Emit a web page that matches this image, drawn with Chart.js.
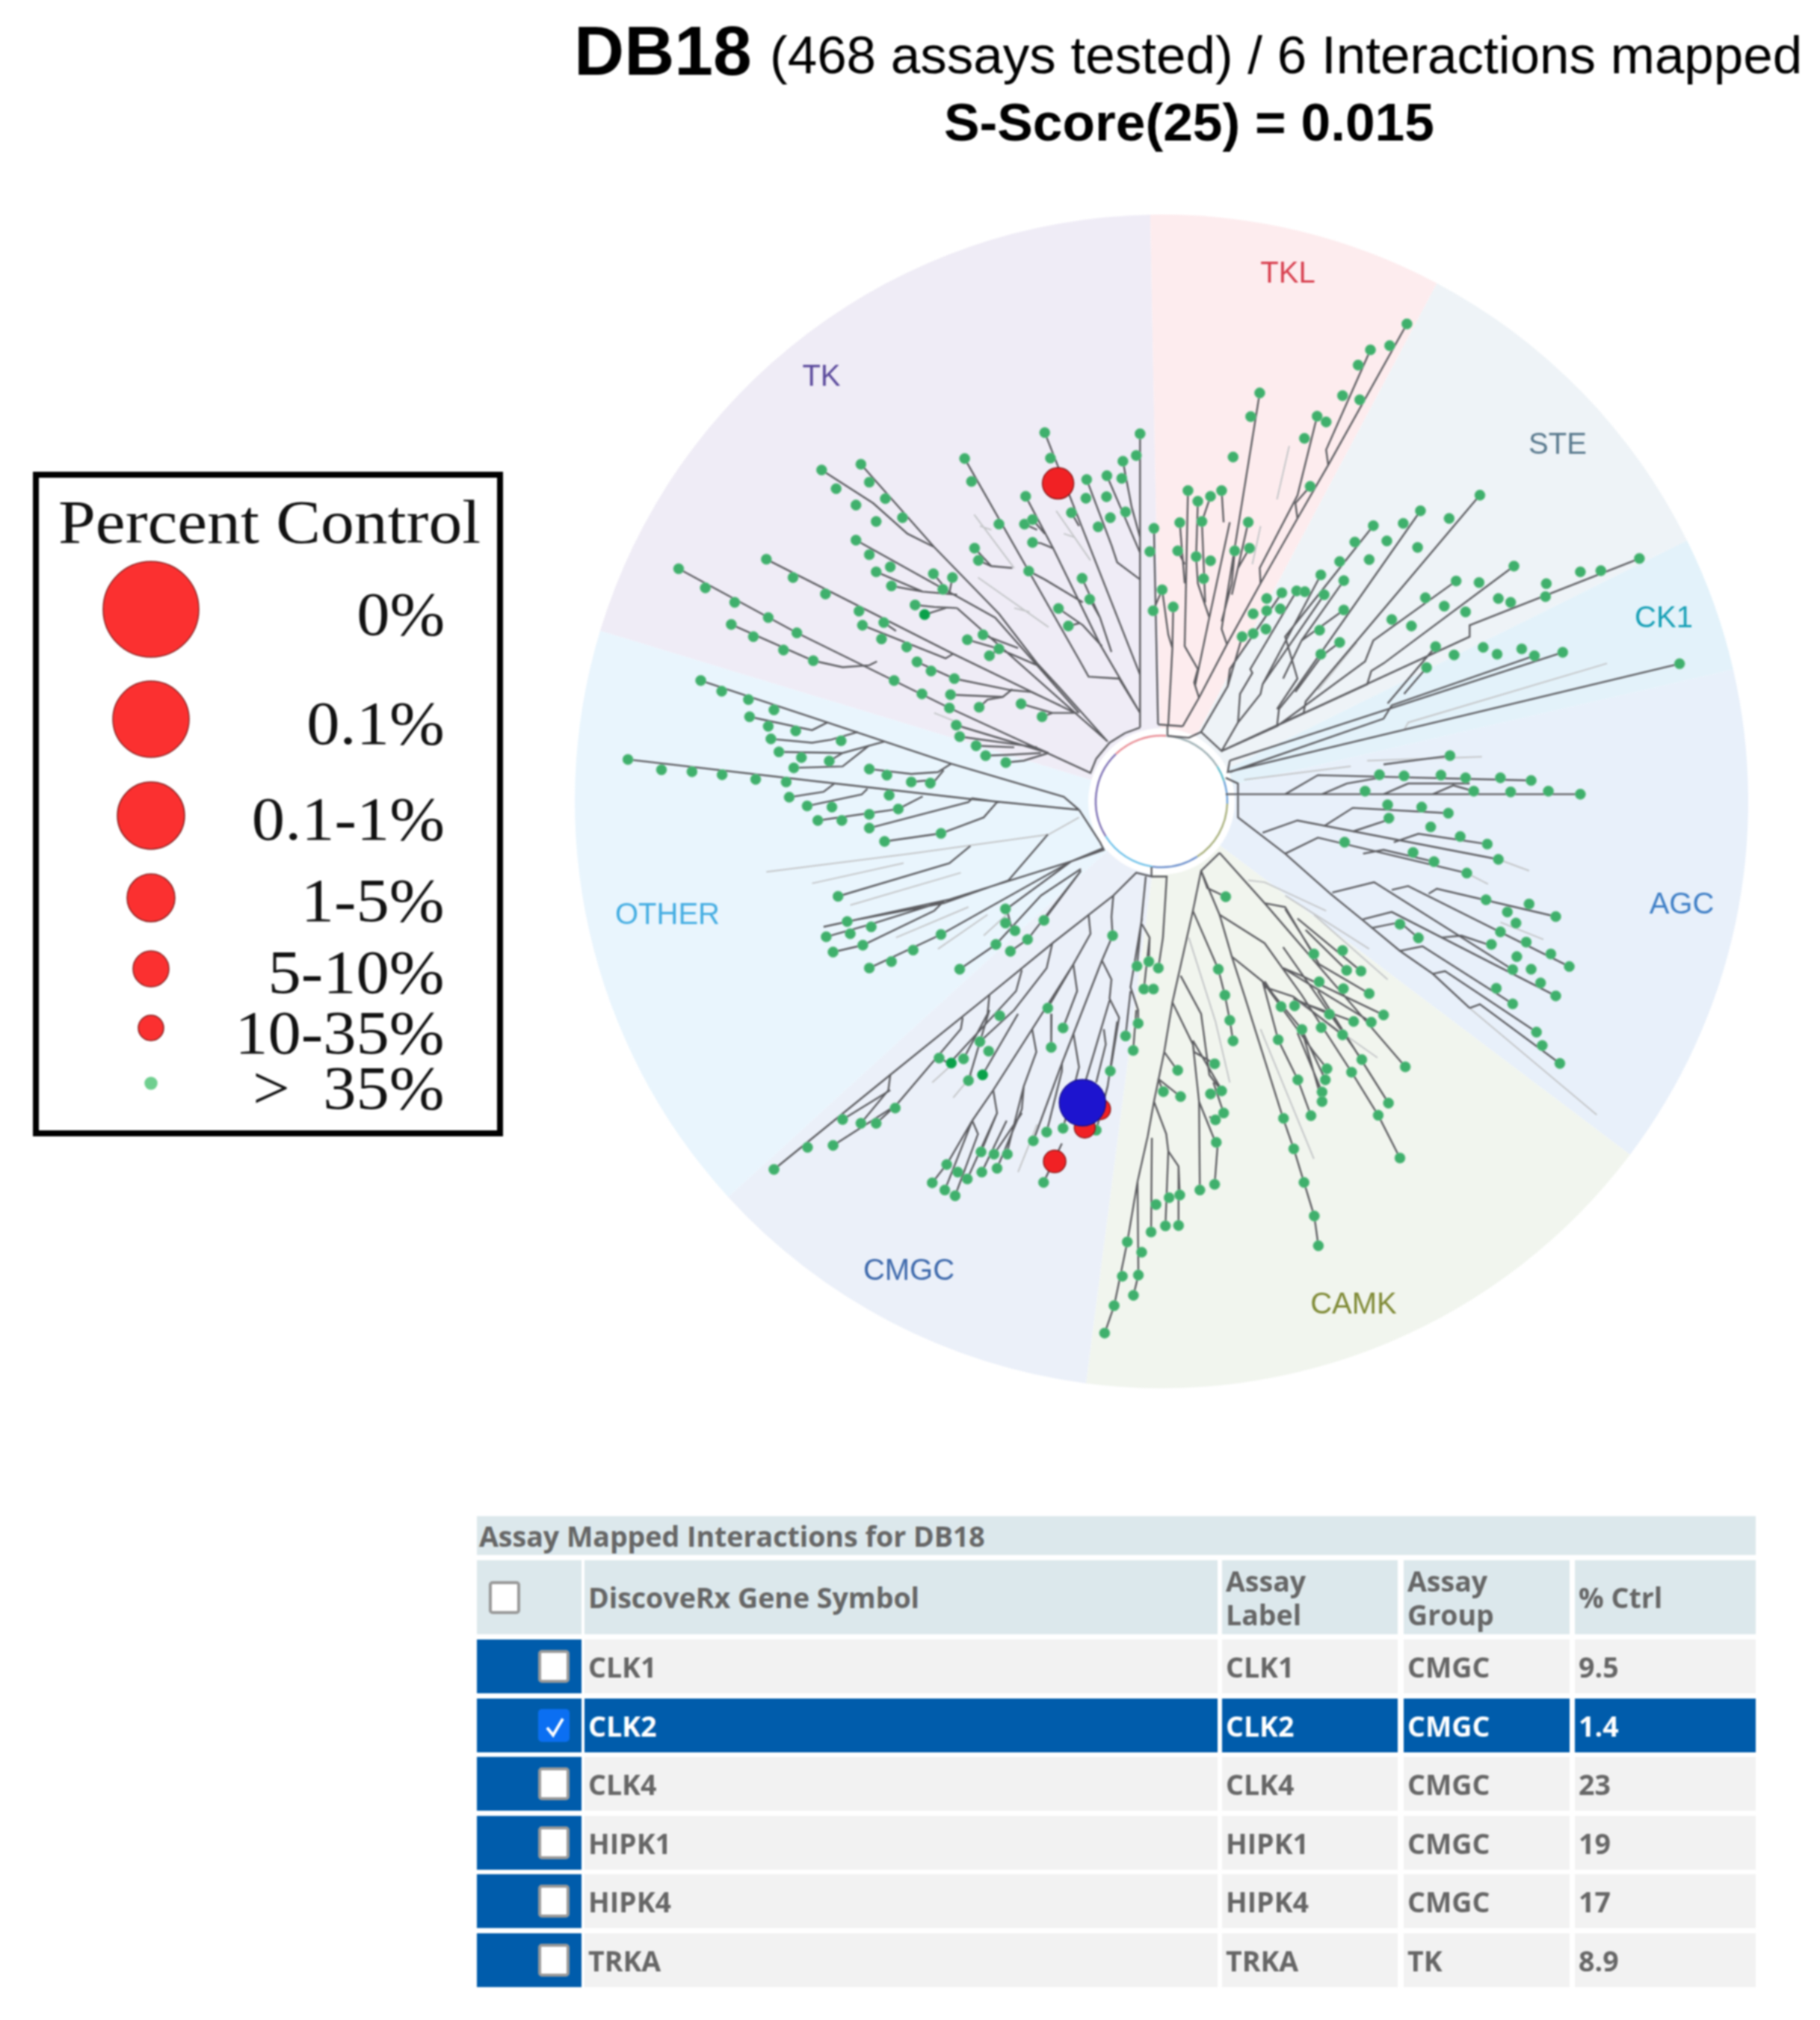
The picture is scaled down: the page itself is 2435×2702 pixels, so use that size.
<!DOCTYPE html>
<html>
<head>
<meta charset="utf-8">
<title>DB18 kinome tree</title>
<script src="https://cdn.jsdelivr.net/npm/chart.js@4"></script>
<style>
    html, body { margin: 0; padding: 0; background: #fff; }
    #page { position: relative; width: 2435px; height: 2702px; overflow: hidden; filter: blur(0.8px); }
    #tree { position: absolute; left: 0; top: 0; }
    .txt { position: absolute; white-space: nowrap; line-height: 1; }
    .title { font-family: "Liberation Sans", sans-serif; color: #000; }
    .group { font-family: "Liberation Sans", sans-serif; font-size: 40px; transform: translate(-50%, -50%); }
    .legend-box { position: absolute; left: 44px; top: 631px; width: 613px; height: 873px; border: 8px solid #000; background: transparent; }
    .legend-txt { font-family: "Liberation Serif", serif; color: #111; font-size: 82px; transform: translateY(-50%) scaleX(1.08); }
    .legend-val { transform-origin: right center; }
    .legend-head { transform-origin: left center; }
    .cell { position: absolute; box-sizing: border-box; display: flex; align-items: center; padding-left: 5px;
            font-family: "Open Sans", sans-serif; font-weight: 700; font-size: 37.5px; line-height: 45px; color: #666; }
    .cell.head { background: #dce8ec; }
    .cell.row { background: #f2f2f2; }
    .cell.sel { background: #005cab; color: #fff; }
    .cell.box { background: #005cab; }
    .check { position: absolute; box-sizing: border-box; width: 42px; height: 44px; border: 4px solid #999; border-radius: 5px; background: #fff; }
    .check.on { background: #0b6ff2; border-color: #0b6ff2; }
    .check.on svg { position: absolute; left: 3px; top: 4px; }
</style>
</head>
<body>
<div id="page">
    <canvas id="tree" width="2435" height="2702"></canvas>
    <div class="legend-box"></div>
</div>
<script>
// --- Values ---
const legendLabels = ['0%', '0.1%', '0.1-1%', '1-5%', '5-10%', '10-35%', '>  35%'];
const legendX = [202, 202, 202, 202, 202, 202, 202];
const legendY = [815, 962, 1091, 1201, 1296, 1375, 1449];
const legendSize = [64, 51, 45, 32, 24, 17, 8];

const geneSymbols = ['CLK1', 'CLK2', 'CLK4', 'HIPK1', 'HIPK4', 'TRKA'];
const assayLabels = ['CLK1', 'CLK2', 'CLK4', 'HIPK1', 'HIPK4', 'TRKA'];
const assayGroups = ['CMGC', 'CMGC', 'CMGC', 'CMGC', 'CMGC', 'TK'];
const pctCtrl = ['9.5', '1.4', '23', '19', '17', '8.9'];

const groupNames = ['TK', 'TKL', 'STE', 'CK1', 'AGC', 'CAMK', 'CMGC', 'OTHER'];
const groupStart = [196.9, 268.9, 298, 333.6, 347, 37, 97.4, 137.6];
const groupEnd = [268.9, 298, 333.6, 347, 397, 97.4, 137.6, 196.9];
const groupFill = ['#efecf6', '#fdecee', '#eef3f7', '#e3f2fa', '#e8f0fa', '#f1f5ee', '#ebf0f9', '#e9f5fd'];
const groupInk = ['#5b4a9c', '#d8404f', '#5a7a8e', '#159fb5', '#3f7fc6', '#7f8a35', '#3c68ab', '#44ade2'];
const groupLabelX = [1099, 1723, 2084, 2226, 2250, 1811, 1216, 893];
const groupLabelY = [502, 364, 593, 825, 1208, 1743, 1698, 1222];
const ringStart = [148, 226, 274, 328, 342, 2, 57, 98];
const ringEnd = [226, 274, 328, 342, 362, 57, 98, 148];
const ringInk = ['#7d70b4', '#e98c94', '#9fb0b4', '#62bccb', '#6ea2da', '#a8b07c', '#6d90cc', '#70c2ea'];

const leavesTL = [
    [1250,605],[1500,608],[1490,665],[1265,672],[1455,680],[1040,673],[665,703],[768,688],[790,735],[703,752],
    [832,778],[755,795],[877,828],[808,838],[1058,733],[1200,772],[1360,728],[1413,718],[1452,725],[1358,777],
    [1412,773],[1320,815],[1462,813],[1422,828],[1390,852],[1130,845],[1197,845],[1218,833],[1218,893],[755,887],
    [790,925],[845,957],[808,970],[848,1007],[958,975],[1008,985],[983,1016],[1066,908],[1076,940],[1208,968],
    [1348,987],[1368,1042],[290,962],[520,937],[590,985],[360,1012],[675,1028],[437,1050],[910,1057],[763,1073],
    [1286,1066],[525,1090],[828,1103],[772,1110],[1312,1112],[428,1108],[600,1130],[486,1140],[822,1146],[1088,1135],
    [1047,1148],[888,1167],[1130,1172],[1105,1190],[565,1175],[643,1203],[915,1206],[952,1230],[1013,1250],[855,1255],
    [928,1290],[1003,1292],[1188,1316],[1078,1325],[1000,1327],[1243,1350],[1018,1372],[1027,1402],[1070,1426],[1095,1452],
    [1148,1470],[348,1255],[403,1283],[473,1305],[540,1332],[476,1350],[525,1375],[597,1387],[532,1408],[716,1413],
    [553,1442],[612,1457],[685,1466],[592,1484],[790,1487],[836,1503],[157,1462],[245,1489],[325,1494],[404,1502],
    [492,1514],[572,1521],[900,1521],[950,1524]
];
const leavesBL = [
    [580,32],[627,55],[692,58],[842,27],[655,93],[718,93],[790,77],[866,63],[790,113],[830,148],[978,127],[708,292],
    [732,358],[677,398],[740,390],[795,372],[773,420],[695,438],[790,480],[848,463],[905,433],[978,392],[1147,325],[1147,362],
    [1172,382],[1248,355],[1205,405],[1122,418],[1160,436],[1027,483],
    [1428,395],[1492,475],[1523,463],[1548,480],[1510,535],[1535,535],[1258,585],[1132,605],[1495,625],[1298,637],
    [1462,658],[1080,673],[1267,688],[1482,696],[1103,698],[973,716],[1037,718],[1050,775],[1422,750],[858,847],
    [720,877],[768,887],[808,887],[1298,900],[1255,910],[1220,933],[628,950],[695,945],[540,1008],[1083,962],
    [1117,968],[1152,968],[993,995],[1022,1015],[1125,1005],[1085,1015],[1047,1033],[955,1043],[988,1062],[1015,1077],
    [1247,1042],[1385,905],[1432,1365],[1407,1437]
];
const leavesTR = [
    [697,320],[655,377],[608,388],[578,428],[338,501],[540,508],[582,519],[316,563],[478,562],[500,577],[447,620],[273,669],
    [461,746],[163,757],[187,785],[218,772],[245,757],[143,841],[197,838],[310,840],[80,856],[277,915],[313,908],[138,915],
    [70,917],[183,930],[218,941],[201,988],[100,1017],[78,1072],[127,1062],
    [875,769],[730,810],[800,830],[688,843],[615,849],[648,889],[570,892],[723,906],[533,943],[605,938],[958,955],[1264,935],
    [487,978],[543,993],[817,994],[873,998],[1120,970],[1170,967],[1037,1001],[1035,1035],[392,1025],[428,1020],[448,1022],
    [355,1040],[495,1030],[742,1038],[920,1040],[950,1050],[788,1060],[322,1080],[355,1072],[388,1067],[543,1070],[840,1075],
    [660,1095],[708,1112],[484,1123],[353,1120],[322,1132],[295,1140],[533,1155],[487,1186],
    [767,1166],[883,1168],[977,1172],[1077,1181],[812,1188],[917,1186],[1008,1190],[745,1221],[1362,1211],
    [802,1452],[630,1502],[690,1505],[780,1503],[840,1510],[925,1510],[1000,1517],[595,1545],[860,1545],[950,1547],[1042,1545],[1120,1553]
];
const leavesBR = [
    [255,293],[237,483],[253,551],[265,617],[273,671],[228,731],[138,748],[103,804],[145,817],[218,810],[245,802],[250,860],
    [230,878],[232,937],[192,1062],[228,1047],[85,1100],[117,1082],[143,1075],[73,1172],[108,1156],[140,1155],[15,1198],[50,1225],
    [42,1285],[3,1288],[30,1338],
    [470,443],[540,434],[550,486],[585,488],[483,516],[542,534],[605,547],[390,581],[423,579],[508,601],[640,603],[567,620],
    [610,622],[441,641],[488,636],[540,655],[383,668],[587,720],[693,739],[502,744],[562,753],[498,773],[431,773],[490,805],
    [490,830],[652,834],[627,866],[463,867],[396,874],[421,954],[680,978],[446,1042],[471,1130],[481,1208],
    [650,52],[733,58],[798,74],[653,87],[755,110],[827,135],[893,155],[545,150],[712,177],[920,195],[763,201],[843,231],
    [890,301],[995,312],[942,333],[1060,345],[963,362],[680,365],[725,401],[925,385],[988,412],[903,418],[1048,443],[965,450],
    [1093,476],[1000,483],[955,484],[1023,519],[1060,553],[915,533],[955,574],[1013,648],[1027,683],[1070,730]
];
// a few leaves are drawn in a stronger green
const strongLeavesTL = [[935,1082]];
const strongLeavesBL = [[1005,729],[1087,760]];

// interactions: blue is the selected assay (CLK2)
const hitsRedTL = [[1285,738]];
const hitsRedBL = [[1395,850],[1355,898],[1276,987]];
const hitsRedSize = [21, 14, 14, 15];
const hitsBlueBL = [[1349,833]];

// branches, one flat x,y list per stroke
const branchesTL = [
    [1500,1378,1500,608],
    [1500,1340,1395,1160,1272,908,1200,772],
    [1272,908,1240,895,1218,893],[1250,870,1218,833],[1230,860,1197,845],
    [1500,1240,1250,605],[1340,850,1320,815],
    [1500,990,1440,945,1425,900,1360,728],[1500,920,1413,718],[1500,880,1478,800,1455,680],
    [1415,1415,1290,1275,1230,1210,1130,1080,960,905,768,688],
    [960,905,890,870,800,790,665,703],
    [1500,1340,1445,1250,1365,1245,1340,1200,1040,673],
    [1350,1050,1250,990,1208,968],[1425,1180,1395,1090,1348,987],[1395,1090,1368,1042],
    [1400,1165,1350,1110,1286,1066],[1340,1105,1312,1112],
    [1165,960,1110,955,1076,940],[1110,955,1066,908],
    [1340,1340,1120,1090,755,887],
    [1020,1030,930,1022,848,1007],[930,1022,808,970],[1000,1025,1008,985],[1000,1025,958,975],
    [1330,1340,1020,1065],[1020,1065,960,1062,910,1057],[990,1065,935,1082],
    [1415,1415,1330,1340,1010,1185,520,937],
    [1010,1185,990,1197,772,1110],[860,1125,828,1103],
    [1180,1170,1088,1135],[1230,1215,1130,1172,1105,1190],[1130,1172,1047,1148],
    [1290,1320,1215,1285,1160,1280,1013,1250,915,1206],
    [1165,1278,1140,1298,1003,1292],[1140,1298,1100,1305,1078,1325],
    [1335,1340,1270,1340,1243,1350],[1270,1340,1188,1316],
    [290,962,600,1130,1000,1327,1370,1497,1385,1460,1420,1418,1460,1393,1500,1378],
    [428,1108,643,1203,720,1220,790,1215,810,1205],
    [1225,1430,1260,1445,1018,1372],[1260,1445,1195,1465,1148,1470],[1230,1430,1027,1402],[1240,1445,1150,1450,1095,1452],[1170,1430,1070,1426],
    [348,1255,680,1365,830,1415,1005,1473,1300,1560,1340,1594],
    [680,1365,640,1385,476,1350],[760,1390,690,1410,640,1418,532,1408],[830,1415,720,1445,553,1442],
    [790,1425,720,1480,592,1484],[720,1445,685,1466],
    [1005,1473,970,1495,900,1500,790,1487],[985,1490,960,1520,950,1524],[960,1515,900,1521],
    [157,1462,700,1525,1050,1565,1340,1594]
];
const branchesBL = [
    [580,32,670,18,700,-5],[627,55,770,25,785,10],[655,93,866,63,930,30],[790,113,1050,45,1060,35,1130,45],[830,148,978,127,1090,85,1125,45],
    [708,292,1000,205,1055,160],
    [1258,130,1155,250,985,310,732,358],[677,398,795,365,985,305],[695,438,773,420,960,330,985,305],
    [790,480,978,392,1320,200,1405,165],[1027,483,1122,418,1240,290,1345,220],[1160,436,1205,405,1345,225],
    [1165,380,1150,325,1320,200],[1248,355,1345,225],
    [1340,65,1395,150,1405,170,1320,200,1000,300,670,372],
    [1530,215,1530,240,1490,230,1430,290,1270,415,1105,550,845,760,540,1008],
    [1515,240,1492,475],[1505,365,1525,400,1523,463],[1525,400,1510,535],[1530,240,1570,240,1560,400,1548,480],
    [1505,350,1475,530,1495,590,1495,625],[1475,540,1462,658],[1490,590,1482,696],
    [1430,290,1425,345,1428,395],
    [1365,340,1370,390,1325,470,1258,585],[1325,470,1335,540,1298,637],
    [1428,395,1400,460,1425,510,1420,560,1445,610,1422,750],[1400,460,1295,730,1220,933],[1420,565,1380,700,1350,800],
    [1405,640,1410,680,1385,780],[1325,650,1340,740,1298,900],[1440,620,1415,790,1385,905],[1295,730,1295,750,1255,910],
    [1270,415,1255,480,1170,590,1080,673],[1190,485,1175,540,1000,730,973,716],[1105,550,1100,600,1037,718],
    [1325,470,1217,640,1115,800,1060,880,993,995],[1217,640,1228,700,1195,790,1150,968],[1115,800,1125,860,1083,962],
    [1195,790,1190,850,1125,1005],[1060,880,1075,915,1015,1077],[1000,985,955,1043],[1060,880,988,1062],[1125,860,1047,1033],
    [1150,880,1085,1015],[1190,860,1117,968],
    [1035,610,1030,640,860,840,808,887],[1105,590,1050,775],[845,760,840,800,768,887],[860,840,695,945],[1180,600,1087,760],[845,800,720,877],
    [1268,600,1267,688],[1295,940,1247,1042]
];
const branchesTR = [
    [113,1398,113,1370],[90,1370,150,1375],
    [90,1370,80,856],[80,917,70,917],
    [115,1370,125,1170,115,1135,100,1017],[125,1170,127,1062],[100,1017,78,1072],
    [190,1300,178,1260,187,1225,155,1165,163,757],
    [150,1375,190,1300,258,1160,340,1000,430,830,505,690,697,320],
    [505,690,500,650,608,388],[340,1000,338,960,430,770,478,562],[430,830,425,790,461,746],
    [258,1160,245,1120,338,501],[245,1100,270,1000,277,915],[250,840,245,757],
    [180,1270,215,1090,265,840],[215,1090,187,1000,183,930,187,785],[187,990,201,988],[205,1050,197,838,218,772],
    [270,1030,310,840],[285,960,313,908],[155,1000,143,841],[155,950,138,915],
    [113,1400,165,1405,195,1390],
    [195,1390,260,1270,295,1140],[260,1270,265,1225,392,1025],
    [285,1365,290,1290,320,1235,315,1225,428,1020],[285,1365,340,1290,345,1265,487,978],[345,1265,495,1030],
    [195,1390,245,1440,285,1365],
    [395,1250,440,1150,543,1070],[440,1150,543,993],[425,1285,490,1190,533,1155],
    [245,1440,380,1375,385,1330,430,1270,730,810],[380,1330,430,1250,400,1140,615,849],
    [245,1440,445,1340,450,1310,875,769],
    [245,1440,600,1265,610,1230,640,1210,958,955],
    [245,1440,850,1140,850,1110,1264,935],
    [380,1375,595,1205,615,1150,817,994],
    [265,1465,1077,1181],[265,1495,640,1355,660,1320,1008,1190],[650,1315,767,1166],[690,1290,745,1221],
    [265,1465,260,1495,1362,1211],
    [255,1510,285,1525,285,1553,255,1553],[285,1553,1120,1553],
    [640,1475,802,1452],[400,1553,480,1503,1000,1517],[490,1553,550,1525,630,1510],
    [640,1553,700,1525,850,1525],[760,1553,810,1530,860,1545]
];
const branchesBR = [
    [285,27,285,85,400,180,510,285,590,355,680,435,760,495,850,585],
    [345,125,430,93,920,195],[495,108,565,60,798,74],[565,122,650,92],[665,150,725,128,893,155],
    [400,180,480,138,843,231],[590,180,640,170,763,201],
    [515,282,617,255,955,484],[660,275,700,265,1093,476],[750,285,770,272,1060,345],
    [590,352,660,333,1060,553],[610,375,680,360,725,401],[780,400,830,395,900,420],
    [680,435,735,423,955,574],[760,495,790,488,1013,648],[850,585,875,575,1070,730],
    [240,178,195,225,175,330,125,570,105,700,80,830,65,920,40,1040,15,1198,-17,1365,-40,1437],
    [40,1040,42,1285,30,1338],
    [80,830,110,915,115,960,108,1156],[115,960,140,1000,140,1155],[75,925,73,1172],[140,1000,143,1075],
    [105,700,135,745],[90,770,103,804],[90,770,145,817],
    [125,570,175,680,190,830,192,1062],[175,680,178,700,228,731],[190,830,235,950,228,1047],
    [175,670,240,790,245,802],[225,780,250,860],[215,870,230,878],[145,500,195,600,215,760,245,802],
    [175,330,237,483,253,551,265,617,273,671],
    [195,225,210,270,255,293],
    [195,225,240,340,270,450,300,550,395,874,421,954,446,1042,471,1130,481,1208],
    [240,340,350,415,440,550,562,753,627,866,680,978],[395,425,587,720],[480,540,652,834],
    [270,450,345,515,383,668,431,773,463,867],[345,515,440,640,490,830],[345,515,470,700,502,744],[440,640,498,773],[430,650,490,805],
    [240,178,350,310,550,560,693,739],[350,310,400,320,483,470,605,547],[430,350,585,488],[450,380,550,486],[400,325,470,443],
    [395,480,440,500,640,603],[395,480,610,622],[350,515,390,581],[350,530,420,555,540,655],[420,560,508,601],[440,570,567,620]
];
const paleTL = [[1065,820,1170,960],[1075,985,1260,1115],[1280,810,1370,940],[1080,850,1110,860],[960,1340,1010,1360],[1170,1065,1210,1075],[1300,870,1330,880]];
const paleBL = [[520,228,900,180,1260,130,1340,85],[640,258,880,205],[740,315,1030,230],[860,400,1050,320],[970,430,1100,340],[1090,395,1150,340],[955,780,1010,730],[1010,820,1060,760],[1180,1015,1230,890]];
const paleTR = [[300,1515,560,1480],[600,1465,880,1455],[690,1385,700,1365,1185,1210],[380,780,410,640],[340,850,320,950],[480,1280,575,1155]];
const paleBR = [[310,250,350,255,500,330],[400,290,605,430],[470,340,650,510],[165,400,230,620,265,780],[340,640,470,980],[420,560,625,715],[850,585,1160,865],[920,195,995,225],[843,231,895,260],[925,360,1030,405]];

// where each crop sits in the picture
const cropTL = { x0: 760, y0: 270, kx: 1.96 };
const cropBL = { x0: 760, y0: 1050, kx: 1.96 };
const cropTR = { x0: 1500, y0: 270, kx: 1.823 };
const cropBR = { x0: 1500, y0: 1050, kx: 1.823 };
const cropKy = 1.96;

const centerX = 1554, centerY = 1072, outerR = 785;

function toPoint(crop, zx, zy) {
    return { x: crop.x0 + zx / crop.kx, y: crop.y0 + zy / cropKy };
}
function leafPoints(crop, list) {
    return list.map(p => toPoint(crop, p[0], p[1]));
}
function strokePoints(crop, strokes) {
    const out = [];
    strokes.forEach(s => {
        for (let i = 0; i < s.length; i += 2) out.push(toPoint(crop, s[i], s[i + 1]));
        out.push({ x: NaN, y: NaN }); // break the line
    });
    return out;
}

// --- Background wedges and the centre ring ---
const wheelPlugin = {
    id: 'wheel',
    beforeDatasetsDraw(chart) {
        const { ctx, scales } = chart;
        const cx = scales.x.getPixelForValue(centerX);
        const cy = scales.y.getPixelForValue(centerY);
        const unit = scales.x.getPixelForValue(1) - scales.x.getPixelForValue(0);
        const rad = d => d * Math.PI / 180;
        ctx.save();
        groupNames.forEach((name, i) => {
            ctx.beginPath();
            ctx.moveTo(cx, cy);
            ctx.arc(cx, cy, outerR * unit, rad(groupStart[i]), rad(groupEnd[i]));
            ctx.closePath();
            ctx.fillStyle = groupFill[i];
            ctx.fill();
        });
        ctx.beginPath();
        ctx.arc(cx, cy, 98 * unit, 0, Math.PI * 2);
        ctx.fillStyle = '#fff';
        ctx.fill();
        ctx.lineWidth = 2.5;
        groupNames.forEach((name, i) => {
            ctx.beginPath();
            ctx.arc(cx, cy, 88 * unit, rad(ringStart[i]), rad(ringEnd[i]));
            ctx.strokeStyle = ringInk[i];
            ctx.stroke();
        });
        ctx.restore();
    }
};

const legendGreen = legendSize.map((r, i) => i === legendSize.length - 1 ? '#6fcf8f' : '#fb3030');

new Chart(document.getElementById('tree'), {
    type: 'scatter',
    data: {
        datasets: [
            {
                label: 'selected',
                data: leafPoints(cropBL, hitsBlueBL),
                pointRadius: 31,
                pointBackgroundColor: '#1d14cf',
                pointBorderColor: '#16108c',
                pointBorderWidth: 1.5,
                order: 0
            },
            {
                label: 'hits',
                data: [...leafPoints(cropTL, hitsRedTL), ...leafPoints(cropBL, hitsRedBL)],
                pointRadius: hitsRedSize,
                pointBackgroundColor: '#f12124',
                pointBorderColor: '#8c1a1a',
                pointBorderWidth: 1.5,
                order: 1
            },
            {
                label: 'leaves strong',
                data: [...leafPoints(cropTL, strongLeavesTL), ...leafPoints(cropBL, strongLeavesBL)],
                pointRadius: 7,
                pointBackgroundColor: '#0aa14a',
                pointBorderColor: '#3cb56e',
                pointBorderWidth: 1,
                order: 2
            },
            {
                label: 'leaves',
                data: [
                    ...leafPoints(cropTL, leavesTL), ...leafPoints(cropBL, leavesBL),
                    ...leafPoints(cropTR, leavesTR), ...leafPoints(cropBR, leavesBR)
                ],
                pointRadius: 7,
                pointBackgroundColor: '#3fb06c',
                pointBorderColor: '#74c592',
                pointBorderWidth: 1,
                order: 3
            },
            {
                label: 'branches',
                data: [
                    ...strokePoints(cropTL, branchesTL), ...strokePoints(cropBL, branchesBL),
                    ...strokePoints(cropTR, branchesTR), ...strokePoints(cropBR, branchesBR)
                ],
                showLine: true,
                spanGaps: false,
                pointRadius: 0,
                borderColor: '#5c5c60',
                borderWidth: 2.4,
                tension: 0,
                order: 4
            },
            {
                label: 'pale branches',
                data: [
                    ...strokePoints(cropTL, paleTL), ...strokePoints(cropBL, paleBL),
                    ...strokePoints(cropTR, paleTR), ...strokePoints(cropBR, paleBR)
                ],
                showLine: true,
                spanGaps: false,
                pointRadius: 0,
                borderColor: '#c4c6c8',
                borderWidth: 2,
                tension: 0,
                order: 5
            },
            {
                label: 'legend',
                data: legendX.map((x, i) => ({ x: x, y: legendY[i] })),
                pointRadius: legendSize,
                pointBackgroundColor: legendGreen,
                pointBorderColor: legendSize.map((r, i) => i === legendSize.length - 1 ? '#6fcf8f' : '#8a2020'),
                pointBorderWidth: 1.5,
                order: 6
            }
        ]
    },
    options: {
        responsive: false,
        animation: false,
        layout: { padding: 0, autoPadding: false },
        plugins: { legend: { display: false }, tooltip: { enabled: false } },
        scales: {
            x: { type: 'linear', min: 0, max: 2435, display: false },
            y: { type: 'linear', min: 0, max: 2702, reverse: true, display: false }
        }
    },
    plugins: [wheelPlugin]
});

// --- Text ---
const page = document.getElementById('page');

function addText(text, cls, css) {
    const el = document.createElement('div');
    el.className = 'txt ' + cls;
    el.textContent = text;
    Object.assign(el.style, css);
    page.appendChild(el);
    return el;
}

addText('DB18', 'title', { left: '768px', top: '22px', fontSize: '93px', fontWeight: '700' });
addText('(468 assays tested) / 6 Interactions mapped', 'title', { left: '1030px', top: '38px', fontSize: '71px' });
addText('S-Score(25) = 0.015', 'title', { left: '1263px', top: '128px', fontSize: '71.3px', fontWeight: '700' });

groupNames.forEach((name, i) => {
    addText(name, 'group', { left: groupLabelX[i] + 'px', top: groupLabelY[i] + 'px', color: groupInk[i] });
});

addText('Percent Control', 'legend-txt legend-head', { left: '78px', top: '698px', fontSize: '83px' });
const legendTextY = [822, 968, 1096, 1205, 1301, 1382, 1456];
legendLabels.forEach((label, i) => {
    const el = addText(label, 'legend-txt legend-val', { right: '1840px', top: legendTextY[i] + 'px' });
    el.style.whiteSpace = 'pre';
});

// --- Table ---
const colLeft = [638, 782, 1635, 1878, 2107];
const colRight = [778, 1629, 1870, 2100, 2349];
const rowTop = [2193, 2272, 2350, 2429, 2507, 2586];
const rowHeight = 72;
const selectedRow = 1;

function addCell(text, col, top, height, cls) {
    const el = document.createElement('div');
    el.className = 'cell ' + cls;
    el.style.left = colLeft[col] + 'px';
    el.style.top = top + 'px';
    el.style.width = (colRight[col] - colLeft[col]) + 'px';
    el.style.height = height + 'px';
    el.innerHTML = text;
    page.appendChild(el);
}
function addCheck(left, top, on) {
    const el = document.createElement('div');
    el.className = on ? 'check on' : 'check';
    el.style.left = left + 'px';
    el.style.top = top + 'px';
    if (on) {
        el.innerHTML = '<svg width="32" height="32" viewBox="0 0 32 32"><path d="M5 17 L13 27 L26 5" fill="none" stroke="#fff" stroke-width="4"/></svg>';
    }
    page.appendChild(el);
}

const caption = document.createElement('div');
caption.className = 'cell head';
Object.assign(caption.style, { left: '638px', top: '2028px', width: '1711px', height: '52px', paddingLeft: '3px' });
caption.textContent = 'Assay Mapped Interactions for DB18';
page.appendChild(caption);

addCell('', 0, 2087, 99, 'head');
addCheck(654, 2115, false);
addCell('DiscoveRx Gene Symbol', 1, 2087, 99, 'head');
addCell('Assay<br>Label', 2, 2087, 99, 'head');
addCell('Assay<br>Group', 3, 2087, 99, 'head');
addCell('% Ctrl', 4, 2087, 99, 'head');

geneSymbols.forEach((gene, i) => {
    const cls = i === selectedRow ? 'sel' : 'row';
    addCell('', 0, rowTop[i], rowHeight, 'box');
    addCheck(720, rowTop[i] + 14, i === selectedRow);
    addCell(gene, 1, rowTop[i], rowHeight, cls);
    addCell(assayLabels[i], 2, rowTop[i], rowHeight, cls);
    addCell(assayGroups[i], 3, rowTop[i], rowHeight, cls);
    addCell(pctCtrl[i], 4, rowTop[i], rowHeight, cls);
});
</script>
</body>
</html>
